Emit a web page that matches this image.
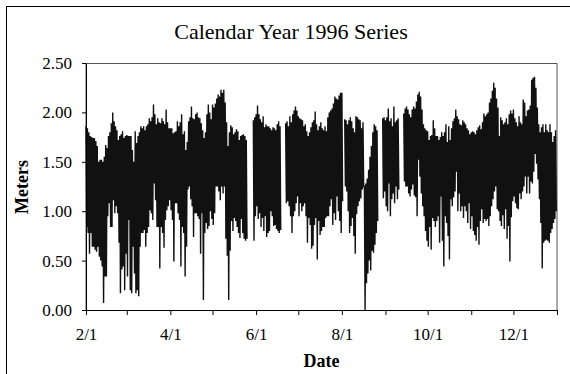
<!DOCTYPE html>
<html>
<head>
<meta charset="utf-8">
<script src="https://cdn.jsdelivr.net/npm/d3@7"></script>
<style>
  body { margin: 0; background: #fff; }
  text { font-family: "Liberation Serif", "Times New Roman", serif; fill: #000; }
</style>
</head>
<body>
<div id="chart"></div>
<script>
// daily envelope of the 1996 water level series (high, then low), null = no data
const startDate = new Date(1996, 1, 1);
const endDate = new Date(1997, 0, 1);

const highs = [
  1.86, 1.84, 1.80, 1.76, 1.75, 1.74, 1.74, 1.71, 1.66, 1.50,
  1.52, 1.52, 1.50, 1.55, 1.67, 1.64, 1.76, 1.80, 1.89, 2.00,
  1.91, 1.86, 1.82, 1.72, 1.76, 1.78, 1.81, 1.74, 1.76, 1.77,
  1.76, 1.76, 1.76, 1.62, 1.50, 1.81, 1.69, 1.76, 1.80, 1.86,
  1.84, 1.86, 1.82, 1.86, 1.88, 1.94, 1.91, 1.95, 2.08, 1.98,
  1.88, 1.94, 1.90, 1.89, 1.94, 1.91, 1.88, 2.03, 1.90, 1.84,
  1.84, 1.84, 1.79, 1.80, 1.81, 1.91, 1.86, 1.90, 1.98, 1.78,
  1.81, 1.62, 1.70, 1.91, 1.95, 2.06, 1.94, 1.93, 1.98, 2.00,
  1.95, 1.94, 1.89, 1.82, 1.74, 1.80, 1.98, 2.08, 2.00, 1.93,
  2.08, 2.05, 2.09, 2.14, 2.18, 2.16, 2.23, 2.20, 2.23, 2.10,
  1.90, 1.66, 1.80, 1.87, 1.85, 1.78, 1.80, 1.83, 1.81, 1.72,
  1.76, 1.77, 1.78, 1.76, 1.72, null, null, null, null, 1.92,
  1.95, 1.98, 2.07, 1.98, 1.93, 1.90, 1.96, 1.85, 1.88, 1.86,
  1.86, 1.84, 1.82, 1.85, 1.84, 1.82, 1.88, 1.91, 1.86, null,
  null, null, 1.89, 1.91, 1.86, 1.96, 1.90, 1.98, 2.02, 2.06,
  2.02, 1.96, 1.94, 1.93, 1.92, 1.86, 1.88, 1.81, 1.76, 1.80,
  1.85, 1.90, 1.92, 2.01, 1.88, 1.82, 1.86, 1.90, 1.84, 1.82,
  1.86, 1.81, 1.95, 2.00, 2.02, 2.04, 2.09, 2.16, 2.14, 2.13,
  2.17, 2.20, 2.20, null, 1.93, 1.92, 1.88, 1.92, 1.95, 1.91,
  1.84, 1.80, 1.96, 1.95, 1.93, 1.92, 1.84, 1.90, 1.25, 1.28,
  1.33, 1.42, 1.55, 1.66, 1.80, 1.88, 1.86, 1.82, null, null,
  null, 1.94, 1.95, 1.92, 1.95, 2.04, 1.91, 1.94, 1.86, 2.06,
  1.90, 1.92, 1.94, null, null, null, 1.99, 2.04, 2.06, 2.03,
  1.98, 1.95, 2.03, 2.06, 2.04, 2.11, 2.18, 2.21, 2.16, 2.03,
  1.88, 1.84, 1.82, 1.81, 1.72, 1.76, 1.77, 1.92, 1.84, 1.76,
  1.76, 1.72, 1.75, 1.80, 1.76, 1.80, 1.88, 1.70, 1.86, 1.72,
  1.84, 1.91, 1.94, 2.03, 1.96, 1.93, 1.88, 1.87, 1.92, 1.90,
  1.88, 1.84, 1.82, 1.78, 1.80, 1.81, 1.80, 1.78, 1.82, 1.85,
  1.87, 1.83, 1.90, 1.99, 1.96, 1.98, 2.00, 2.10, 2.14, 2.22,
  2.30, 2.25, 2.14, 2.05, 1.76, 1.95, 1.92, 1.88, 1.90, 1.94,
  1.88, 1.98, 2.02, 1.99, 2.03, 1.94, 1.90, 1.86, 1.96, 1.90,
  1.88, 2.13, 2.10, 1.96, 2.02, 2.03, 2.07, 2.33, 2.35, 2.36,
  2.25, 2.05, 1.88, 1.80, 1.85, 1.88, 1.80, 1.88, 1.82, 1.80,
  1.88, 1.80, 1.70, 1.76, 1.82
];

const lows = [
  0.84, 0.78, 0.57, 0.78, 0.64, 0.64, 0.61, 0.59, 0.64, 0.54,
  0.50, 0.44, 0.07, 0.34, 0.34, 0.95, 1.08, 0.84, 0.84, 1.11,
  0.98, 1.05, 0.98, 0.68, 0.17, 0.41, 0.44, 0.20, 0.57, 0.34,
  0.91, 0.20, 0.17, 0.64, 0.37, 0.17, 0.20, 0.14, 0.64, 0.78,
  0.78, 0.81, 0.64, 0.78, 0.84, 1.01, 0.98, 0.91, 1.28, 1.11,
  0.84, 0.84, 0.42, 0.84, 0.78, 0.63, 0.91, 1.01, 1.05, 1.11,
  1.01, 0.91, 0.49, 1.08, 1.08, 0.98, 0.91, 0.44, 0.84, 0.78,
  0.34, 0.64, 1.22, 1.25, 1.12, 1.05, 0.74, 0.98, 0.98, 0.95,
  0.92, 0.57, 0.98, 0.10, 0.78, 0.88, 0.82, 0.85, 1.00, 0.92,
  0.86, 0.98, 1.25, 1.25, 1.20, 1.11, 1.25, 1.18, 1.25, 0.72,
  0.55, 0.10, 0.60, 0.90, 0.80, 0.93, 0.90, 0.84, 0.78, 0.73,
  0.92, 0.78, 0.72, 0.70, 0.72, null, null, null, null, 0.70,
  0.95, 1.05, 0.92, 0.98, 0.84, 0.93, 0.80, 0.95, 0.74, 0.78,
  0.80, 1.00, 0.95, 0.85, 0.86, 0.82, 0.80, 0.78, 0.81, null,
  null, null, 1.08, 1.10, 1.05, 0.95, 0.78, 0.95, 1.00, 1.08,
  1.15, 0.95, 1.08, 1.00, 1.05, 1.08, 0.95, 0.68, 0.93, 0.86,
  0.62, 0.65, 0.86, 0.93, 0.51, 0.90, 0.76, 0.80, 0.84, 0.84,
  0.93, 0.95, 0.95, 1.05, 1.12, 0.86, 0.98, 0.91, 1.15, 1.00,
  0.90, 0.78, 1.10, null, 1.25, 1.20, 1.00, 0.78, 0.85, 0.93,
  0.75, 0.57, 0.97, 1.05, 1.10, 1.13, 1.22, 1.25, 0.00, 0.27,
  0.37, 0.50, 0.40, 0.60, 0.58, 0.66, 0.78, 0.90, null, null,
  null, 1.13, 1.20, 1.05, 1.00, 1.28, 0.95, 1.12, 1.18, 1.08,
  1.25, 1.12, 1.22, null, null, null, 1.30, 1.25, 1.25, 1.18,
  1.15, 1.22, 1.27, 1.16, 1.14, 0.95, 1.52, 1.35, 1.18, 1.05,
  0.95, 0.80, 0.70, 0.64, 0.84, 0.61, 0.93, 0.90, 0.84, 0.90,
  0.95, 0.68, 1.15, 0.70, 0.44, 0.95, 0.88, 0.75, 0.51, 1.12,
  1.05, 1.14, 1.20, 1.40, 1.00, 1.18, 1.00, 1.05, 0.93, 1.05,
  1.00, 0.88, 1.08, 0.82, 0.95, 0.80, 0.76, 0.70, 0.84, 0.66,
  0.90, 1.02, 0.88, 0.92, 0.90, 0.92, 0.85, 0.95, 1.05, 1.12,
  1.20, 1.25, 1.02, 1.00, 0.90, 0.85, 0.96, 0.82, 1.02, 0.72,
  0.85, 0.49, 0.94, 1.10, 1.15, 1.08, 1.03, 1.02, 1.18, 1.12,
  1.20, 1.25, 1.35, 1.18, 1.35, 1.18, 1.30, 1.28, 1.40, 1.58,
  1.48, 1.32, 1.12, 0.88, 0.42, 0.68, 0.70, 0.71, 0.70, 0.68,
  0.78, 0.82, 0.88, 0.92, 1.00
];

const yTicks = [0, 0.5, 1.0, 1.5, 2.0, 2.5];

const width = 570;
const height = 374;
const margin = { top: 63, right: 13, bottom: 64, left: 86 };

const svg = d3
  .select("#chart")
  .append("svg")
  .attr("width", width)
  .attr("height", height);

// outer chart border
svg
  .append("rect")
  .attr("x", 6.5)
  .attr("y", 6.5)
  .attr("width", width + 20)
  .attr("height", height + 20)
  .attr("fill", "none")
  .attr("stroke", "#000");

const x = d3
  .scaleTime()
  .domain([startDate, endDate])
  .range([margin.left, width - margin.right]);

const y = d3
  .scaleLinear()
  .domain([0, 2.5])
  .range([height - margin.bottom, margin.top]);

// plot area frame
svg
  .append("rect")
  .attr("x", margin.left)
  .attr("y", margin.top + 0.5)
  .attr("width", width - margin.left - margin.right)
  .attr("height", height - margin.top - margin.bottom)
  .attr("fill", "none")
  .attr("stroke", "#555");

// high at the start of each day, low half a day later
const series = [];
highs.forEach((h, i) => {
  const day = d3.timeDay.offset(startDate, i);
  series.push({ date: day, value: h });
  series.push({ date: d3.timeHour.offset(day, 12), value: lows[i] });
});

const line = d3
  .line()
  .defined((d) => d.value !== null)
  .x((d) => x(d.date))
  .y((d) => y(d.value));

svg
  .append("path")
  .datum(series)
  .attr("fill", "none")
  .attr("stroke", "#111")
  .attr("stroke-width", 1.4)
  .attr("d", line);

const fmt = d3.timeFormat("%-m/%-d");

// x axis: a tick every month, a label every other month
svg
  .append("g")
  .attr("transform", `translate(0,${height - margin.bottom})`)
  .call(
    d3
      .axisBottom(x)
      .ticks(d3.timeMonth.every(1))
      .tickSize(5)
      .tickSizeOuter(0)
      .tickPadding(13)
      .tickFormat((d) => (d.getMonth() % 2 === 1 ? fmt(d) : ""))
  )
  .call((g) => g.selectAll("text").style("font-size", "17px"))
  .call((g) => g.selectAll("line, path").attr("stroke", "#000"));

svg
  .append("g")
  .attr("transform", `translate(${margin.left},0)`)
  .call(
    d3
      .axisLeft(y)
      .tickValues(yTicks)
      .tickSize(4)
      .tickSizeOuter(0)
      .tickPadding(10)
      .tickFormat(d3.format(".2f"))
  )
  .call((g) => g.selectAll("text").style("font-size", "17px"))
  .call((g) => g.selectAll("line, path").attr("stroke", "#000"));

svg
  .append("text")
  .attr("x", 291)
  .attr("y", 39)
  .attr("text-anchor", "middle")
  .style("font-size", "22px")
  .text("Calendar Year 1996 Series");

svg
  .append("text")
  .attr("x", (margin.left + width - margin.right) / 2)
  .attr("y", 367)
  .attr("text-anchor", "middle")
  .style("font-size", "18px")
  .style("font-weight", "bold")
  .text("Date");

svg
  .append("text")
  .attr("transform", "translate(28,187) rotate(-90)")
  .attr("text-anchor", "middle")
  .style("font-size", "18px")
  .style("font-weight", "bold")
  .text("Meters");
</script>
</body>
</html>
